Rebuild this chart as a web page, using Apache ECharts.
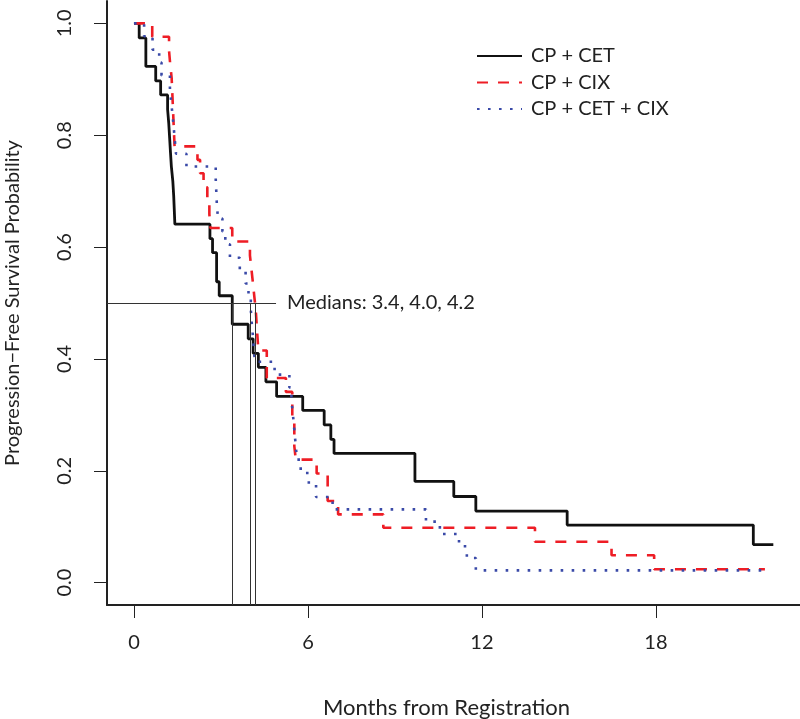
<!DOCTYPE html>
<html>
<head>
	<meta charset="utf-8">
	<title>Progression-Free Survival</title>
	<script src="https://cdn.jsdelivr.net/npm/echarts@6/dist/echarts.min.js"></script>
	<style>
		html, body { margin: 0; padding: 0; background: #fff; }
		#chart { width: 800px; height: 719px; }
	</style>
</head>
<body>
<div id="chart"></div>

<script>
	// step times (months) and survival level after each step
	const cetTimes = [0, 0.18, 0.41, 0.75, 0.92, 1.16, 1.20, 1.23, 1.26, 1.29, 1.34, 1.37, 1.39, 1.41, 2.62, 2.71, 2.85, 2.94, 3.39, 3.94, 4.11, 4.29, 4.55, 4.92, 5.82, 6.56, 6.79, 6.90, 9.69, 11.03, 11.79, 14.94, 21.36, 22.05];
	const cetSurv = [1.0, 0.974, 0.923, 0.897, 0.872, 0.846, 0.821, 0.795, 0.769, 0.744, 0.718, 0.692, 0.667, 0.641, 0.615, 0.590, 0.538, 0.513, 0.462, 0.436, 0.410, 0.385, 0.359, 0.333, 0.308, 0.282, 0.256, 0.231, 0.181, 0.154, 0.128, 0.103, 0.068, 0.068];

	const cixTimes = [0, 0.63, 1.21, 1.25, 1.30, 1.32, 1.34, 1.36, 1.38, 1.40, 2.19, 2.28, 2.40, 2.53, 2.60, 2.64, 3.39, 4.00, 4.05, 4.10, 4.15, 4.20, 4.23, 4.26, 4.29, 4.58, 5.24, 5.46, 5.53, 5.58, 6.30, 6.68, 7.04, 8.60, 13.83, 16.47, 17.94, 21.76];
	const cixSurv = [1.0, 0.976, 0.951, 0.927, 0.902, 0.878, 0.854, 0.829, 0.805, 0.780, 0.756, 0.732, 0.707, 0.683, 0.659, 0.634, 0.610, 0.585, 0.561, 0.537, 0.512, 0.488, 0.463, 0.439, 0.415, 0.366, 0.341, 0.293, 0.244, 0.220, 0.195, 0.146, 0.122, 0.098, 0.073, 0.049, 0.024, 0.024];

	const bothTimes = [0, 0.35, 0.64, 0.87, 0.95, 1.24, 1.28, 1.33, 1.37, 1.41, 1.45, 1.81, 2.82, 2.84, 2.86, 2.90, 3.05, 3.15, 3.31, 3.65, 3.85, 3.95, 4.03, 4.06, 4.10, 4.13, 4.17, 4.85, 5.36, 5.43, 5.48, 5.52, 5.56, 5.60, 5.68, 5.75, 6.03, 6.28, 6.85, 10.07, 10.55, 11.21, 11.48, 11.79, 21.76];
	const bothSurv = [1.0, 0.977, 0.953, 0.930, 0.907, 0.884, 0.860, 0.837, 0.814, 0.791, 0.767, 0.744, 0.721, 0.698, 0.674, 0.651, 0.628, 0.605, 0.581, 0.558, 0.535, 0.512, 0.488, 0.465, 0.442, 0.419, 0.395, 0.372, 0.349, 0.326, 0.302, 0.279, 0.256, 0.233, 0.209, 0.196, 0.175, 0.153, 0.131, 0.109, 0.087, 0.065, 0.044, 0.022, 0.022];

	const seriesNames = ['CP + CET', 'CP + CIX', 'CP + CET + CIX'];
	const medians = [3.4, 4.0, 4.2];
	const medianLevel = 0.5;
	const medianLineEnd = 4.9;

	const xTicks = [0, 6, 12, 18];
	const yTicks = [0, 0.2, 0.4, 0.6, 0.8, 1.0];
	const xMin = -0.93, xMax = 22.97;
	const yMin = -0.04, yMax = 1.04;

	const font = 'Lato';
	const toPairs = (t, s) => t.map((v, i) => [v, s[i]]);

	const chart = echarts.init(document.getElementById('chart'));

	// median guide lines
	const medianLines = [
		[{ coord: [xMin, medianLevel] }, {
			coord: [medianLineEnd, medianLevel],
			label: {
				show: true,
				position: 'end',
				distance: 11,
				formatter: 'Medians: ' + medians.map(m => m.toFixed(1)).join(', '),
				color: '#222',
				fontFamily: font,
				fontSize: 20
			}
		}]
	].concat(medians.map(m => [{ coord: [m, medianLevel] }, { coord: [m, yMin] }]));

	const option = {
		animation: false,
		grid: { left: 107, right: 0, top: 1, bottom: 114, outerBoundsMode: 'none' },
		legend: {
			data: seriesNames,
			orient: 'vertical',
			left: 476,
			top: 46,
			padding: 0,
			itemWidth: 45,
			itemHeight: 14,
			itemGap: 6.5,
			itemStyle: { opacity: 0 },
			textStyle: { fontFamily: font, fontSize: 20, color: '#222', padding: [0, 0, 0, 4] }
		},
		xAxis: {
			type: 'value',
			min: xMin,
			max: xMax,
			name: 'Months from Registration',
			nameLocation: 'middle',
			nameGap: 92,
			nameTextStyle: { fontFamily: font, fontSize: 22, color: '#222', padding: [0, 14, 0, 0] },
			axisLine: { onZero: false, lineStyle: { color: '#222', width: 2 } },
			axisTick: { customValues: xTicks, length: 13, lineStyle: { color: '#222', width: 1 } },
			axisLabel: { customValues: xTicks, margin: 28, fontFamily: font, fontSize: 20, color: '#222' },
			splitLine: { show: false }
		},
		yAxis: {
			type: 'value',
			min: yMin,
			max: yMax,
			name: 'Progression\u2212Free Survival Probability',
			nameLocation: 'middle',
			nameGap: 84,
			nameTextStyle: { fontFamily: font, fontSize: 20, color: '#222' },
			axisLine: { onZero: false, lineStyle: { color: '#222', width: 2 } },
			axisTick: { customValues: yTicks, length: 13, lineStyle: { color: '#222', width: 1 } },
			axisLabel: {
				customValues: yTicks,
				rotate: 90,
				margin: 32,
				formatter: v => v.toFixed(1),
				fontFamily: font,
				fontSize: 20,
				color: '#222'
			},
			splitLine: { show: false }
		},
		series: [
			{
				name: seriesNames[0],
				type: 'line',
				step: 'end',
				symbol: 'none',
				data: toPairs(cetTimes, cetSurv),
				lineStyle: { color: '#111', width: 2.8 },
				itemStyle: { color: '#111' }
			},
			{
				name: seriesNames[1],
				type: 'line',
				step: 'end',
				symbol: 'none',
				data: toPairs(cixTimes, cixSurv),
				lineStyle: { color: '#ee1d25', width: 2.6, type: [11, 10] },
				itemStyle: { color: '#ee1d25' }
			},
			{
				name: seriesNames[2],
				type: 'line',
				step: 'end',
				symbol: 'none',
				data: toPairs(bothTimes, bothSurv),
				lineStyle: { color: '#3a4aa8', width: 2.6, type: [2.6, 8.4] },
				itemStyle: { color: '#3a4aa8' }
			},
			{
				name: 'medians',
				type: 'line',
				data: [],
				markLine: {
					silent: true,
					symbol: 'none',
					label: { show: false },
					lineStyle: { color: '#333', width: 1, type: 'solid' },
					data: medianLines
				}
			}
		]
	};

	chart.setOption(option);

	window.addEventListener('resize', () => {
		chart.resize();
	});
</script>
</body>
</html>
